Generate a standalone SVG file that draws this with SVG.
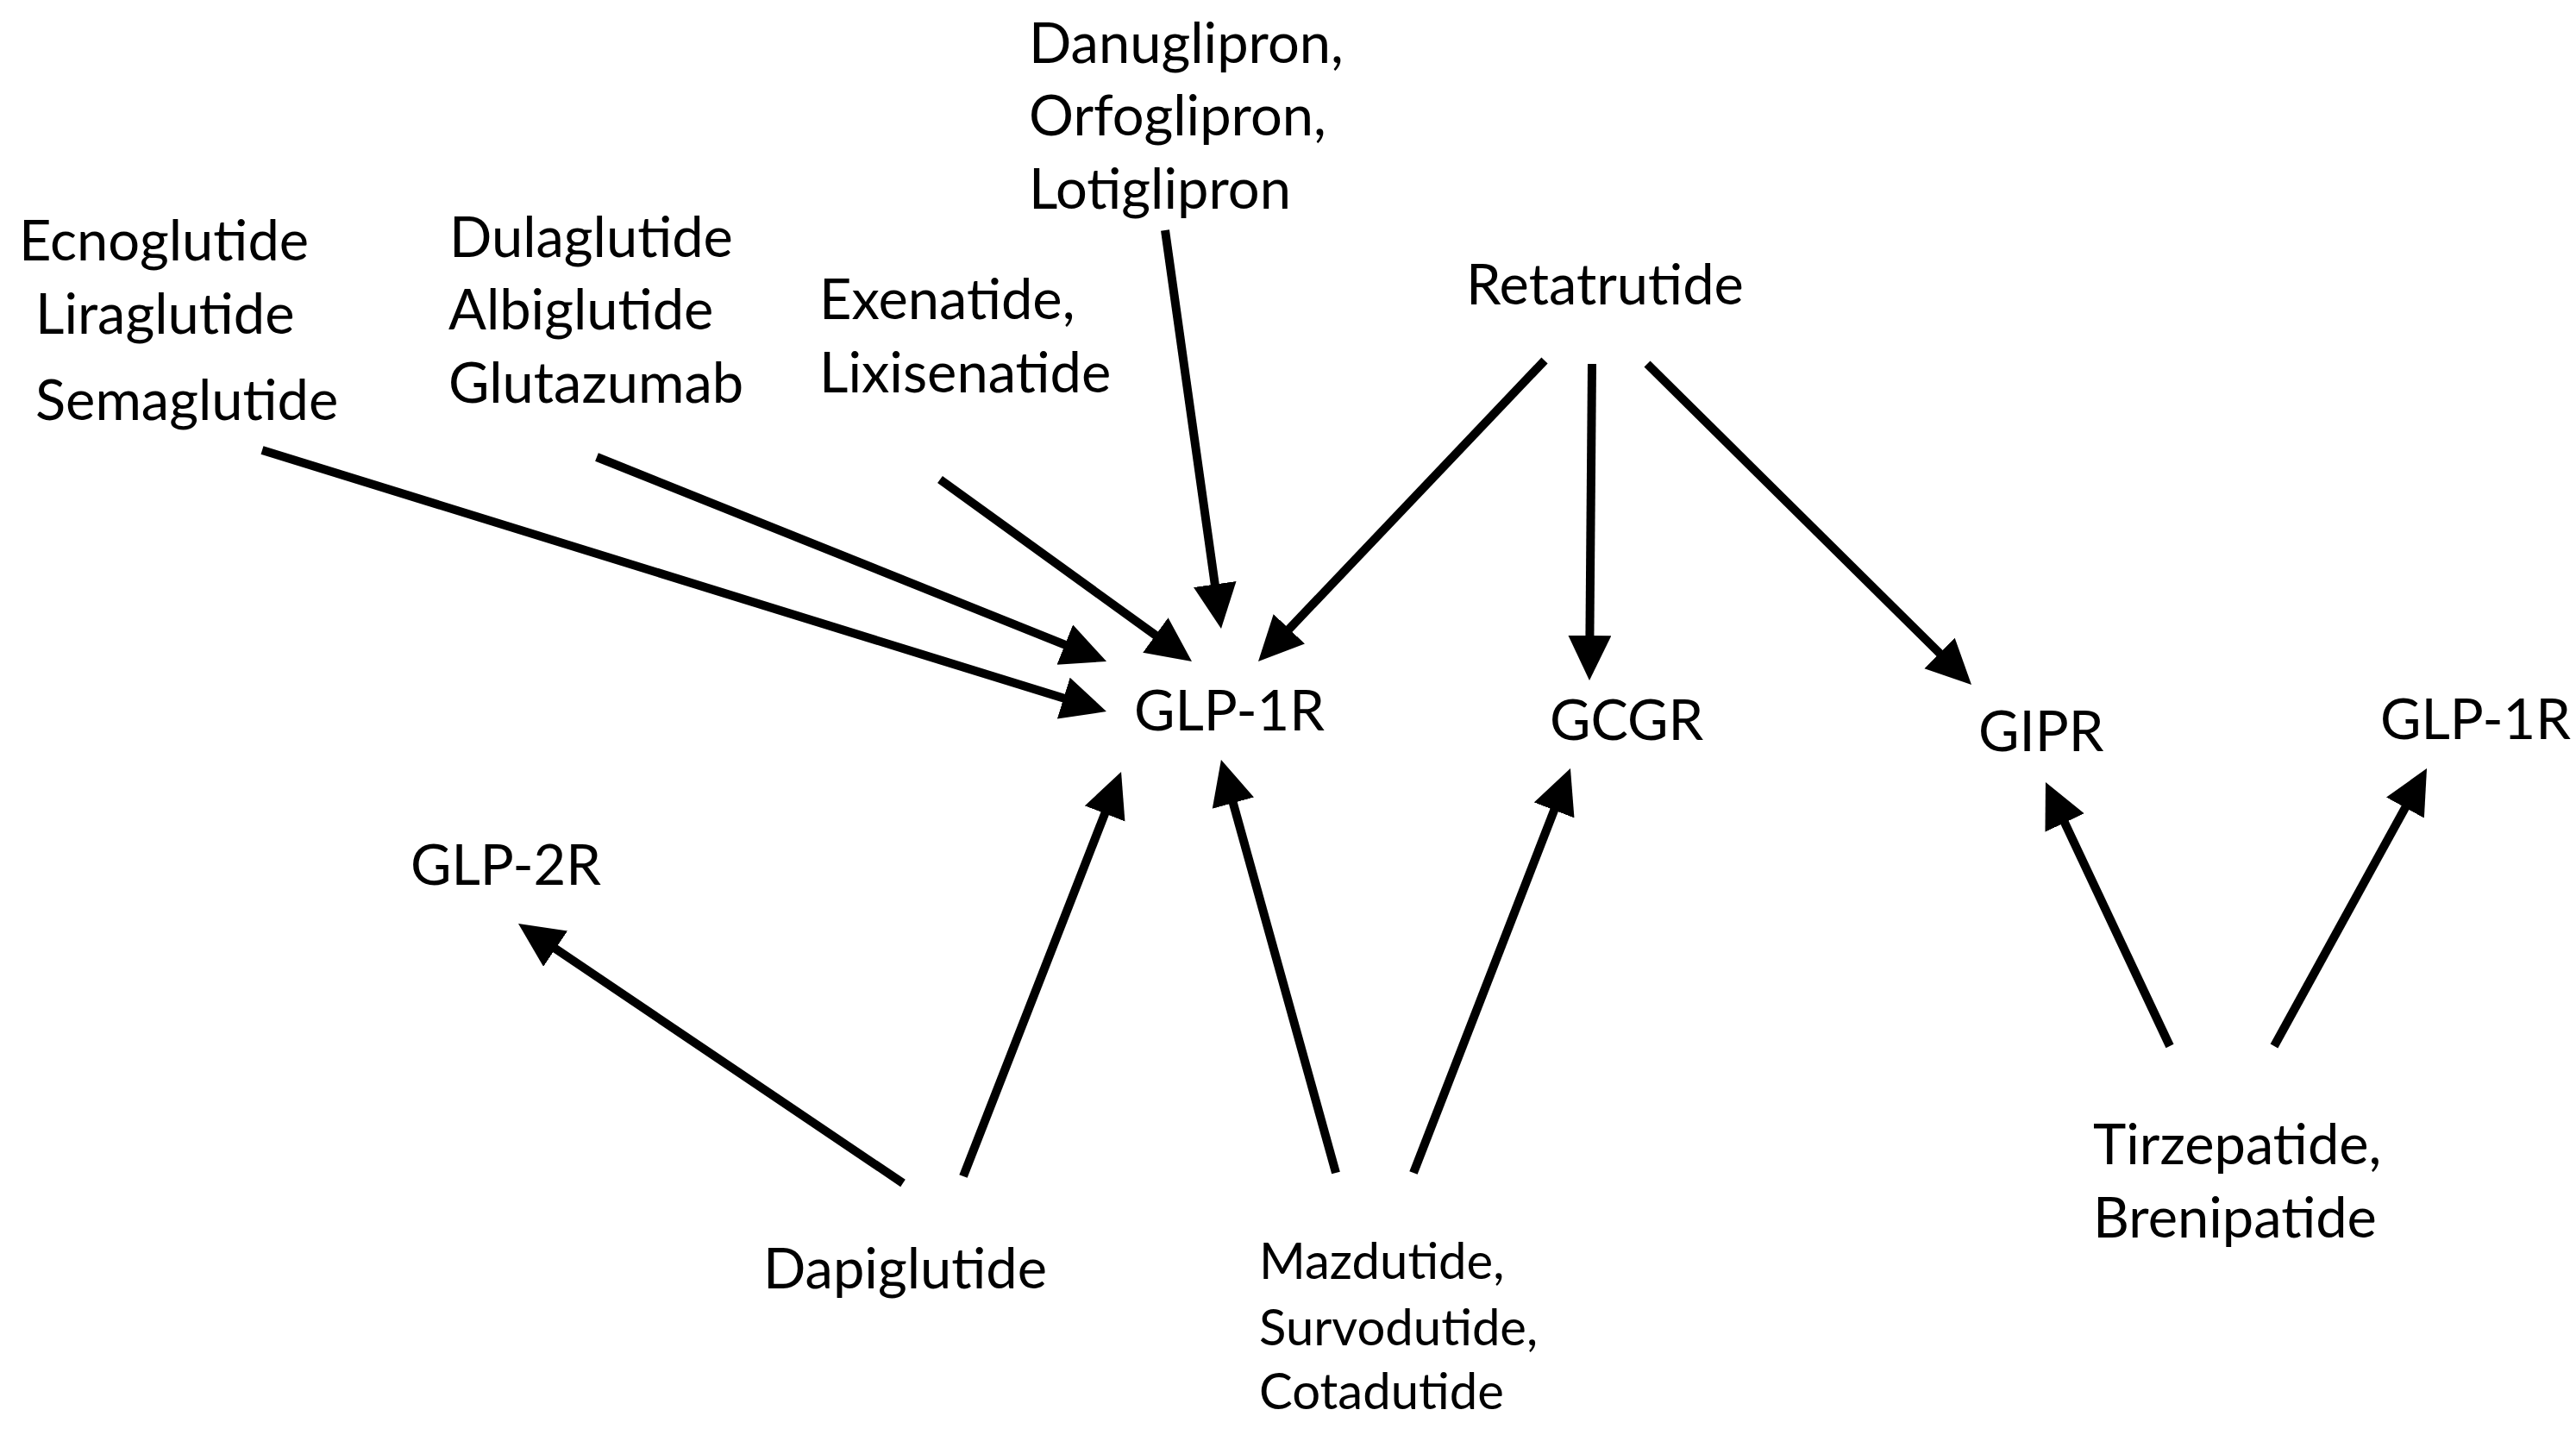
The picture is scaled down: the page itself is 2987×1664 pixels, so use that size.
<svg xmlns="http://www.w3.org/2000/svg" width="2987" height="1664" viewBox="0 0 2987 1664">
<style>
text{font-family:Lato,"Open Sans","Liberation Sans",sans-serif;fill:#000;font-size:65px}
.s{font-size:58px}
.c line{stroke:#000;stroke-width:10;fill:none}
</style>
<defs>
<marker id="ah" markerUnits="userSpaceOnUse" markerWidth="54" markerHeight="52" refX="4" refY="25" orient="auto" viewBox="0 0 54 52">
<path d="M0,0 L52,25 L0,50 Z" fill="#000"/>
</marker>
</defs>
<rect width="2987" height="1664" fill="#fff"/>
<g class="c" id="connectors">
<line x1="304" y1="522" x2="1237.1" y2="810.8" marker-end="url(#ah)"/>
<line x1="692" y1="530" x2="1238.5" y2="749.1" marker-end="url(#ah)"/>
<line x1="1090" y1="556" x2="1343.1" y2="738.9" marker-end="url(#ah)"/>
<line x1="1351" y1="267" x2="1409.3" y2="681.5" marker-end="url(#ah)"/>
<line x1="1791" y1="418" x2="1492.1" y2="732.2" marker-end="url(#ah)"/>
<line x1="1846" y1="422" x2="1843.4" y2="741" marker-end="url(#ah)"/>
<line x1="1910" y1="422" x2="2251.9" y2="760.2" marker-end="url(#ah)"/>
<line x1="1047" y1="1372" x2="640.8" y2="1097.9" marker-end="url(#ah)"/>
<line x1="1117" y1="1364" x2="1282.6" y2="939.7" marker-end="url(#ah)"/>
<line x1="1549" y1="1360" x2="1428.8" y2="927.3" marker-end="url(#ah)"/>
<line x1="1639" y1="1360" x2="1803.6" y2="935.7" marker-end="url(#ah)"/>
<line x1="2516" y1="1213" x2="2392.4" y2="950.4" marker-end="url(#ah)"/>
<line x1="2637" y1="1213" x2="2790.9" y2="933.1" marker-end="url(#ah)"/>
</g>
<g id="n-ecno"><text x="22" y="302">Ecnoglutide</text><text x="41" y="387">Liraglutide</text><text x="41" y="487">Semaglutide</text></g>
<g id="n-dula"><text x="521" y="298">Dulaglutide</text><text x="520" y="382">Albiglutide</text><text x="520" y="467">Glutazumab</text></g>
<g id="n-exen"><text x="950" y="370">Exenatide,</text><text x="950" y="455">Lixisenatide</text></g>
<g id="n-danu"><text x="1193" y="73">Danuglipron,</text><text x="1193" y="157">Orfoglipron,</text><text x="1193" y="242">Lotiglipron</text></g>
<g id="n-reta"><text x="1700" y="353">Retatrutide</text></g>
<g id="n-glp1r"><text x="1315" y="847">GLP-1R</text></g>
<g id="n-gcgr"><text x="1797" y="858">GCGR</text></g>
<g id="n-gipr"><text x="2294" y="871">GIPR</text></g>
<g id="n-glp1r-b"><text x="2760" y="857">GLP-1R</text></g>
<g id="n-glp2r"><text x="476" y="1026">GLP-2R</text></g>
<g id="n-dapi"><text x="885" y="1494">Dapiglutide</text></g>
<g id="n-mazd"><text class="s" x="1460" y="1483">Mazdutide,</text><text class="s" x="1460" y="1560">Survodutide,</text><text class="s" x="1460" y="1634">Cotadutide</text></g>
<g id="n-tirz"><text x="2427" y="1350">Tirzepatide,</text><text x="2427" y="1435">Brenipatide</text></g>
</svg>
